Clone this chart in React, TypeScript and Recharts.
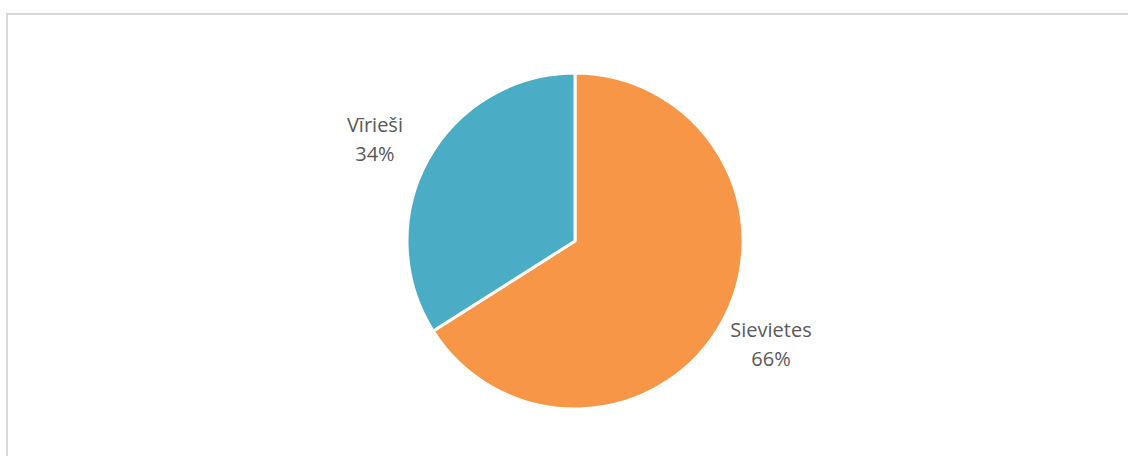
import { Cell, Pie, PieChart } from 'recharts'

const categories = ['Sievietes', 'Vīrieši']
const shares = [66, 34]
const colors = ['#F79646', '#4BACC6']

const data = categories.map((name, i) => ({ name, value: shares[i] }))

const RAD = Math.PI / 180

function renderLabel(props: any) {
  const { cx, cy, midAngle, outerRadius, name, value } = props
  // labels sit on a slightly flattened ring outside the pie
  const rx = outerRadius + 58
  const ry = outerRadius + 44
  const x = cx + rx * Math.cos(-midAngle * RAD) - 2
  const y = cy + ry * Math.sin(-midAngle * RAD)
  return (
    <text
      x={x}
      y={y}
      textAnchor="middle"
      fill="#595959"
      fontSize={20}
      fontFamily="'Open Sans', sans-serif"
    >
      <tspan x={x} y={y - 14} dominantBaseline="central">{name}</tspan>
      <tspan x={x} y={y + 15} dominantBaseline="central">{value}%</tspan>
    </text>
  )
}

export default function App() {
  return (
    <div style={{ position: 'fixed', left: 0, top: 0, width: 1128, height: 456, overflow: 'hidden', background: '#fff' }}>
      <div
        style={{
          position: 'absolute',
          left: 6,
          top: 13,
          width: 1140,
          height: 460,
          border: '2px solid #d9d9d9',
          boxSizing: 'border-box',
        }}
      />
      <div style={{ position: 'absolute', left: 0, top: 0 }}>
        <PieChart width={1128} height={456}>
          <Pie
            data={data}
            dataKey="value"
            nameKey="name"
            cx={570}
            cy={236}
            outerRadius={168}
            startAngle={90}
            endAngle={-270}
            stroke="#fff"
            strokeWidth={3}
            label={renderLabel}
            labelLine={false}
            isAnimationActive={false}
          >
            {data.map((d, i) => (
              <Cell key={d.name} fill={colors[i]} />
            ))}
          </Pie>
        </PieChart>
      </div>
    </div>
  )
}
